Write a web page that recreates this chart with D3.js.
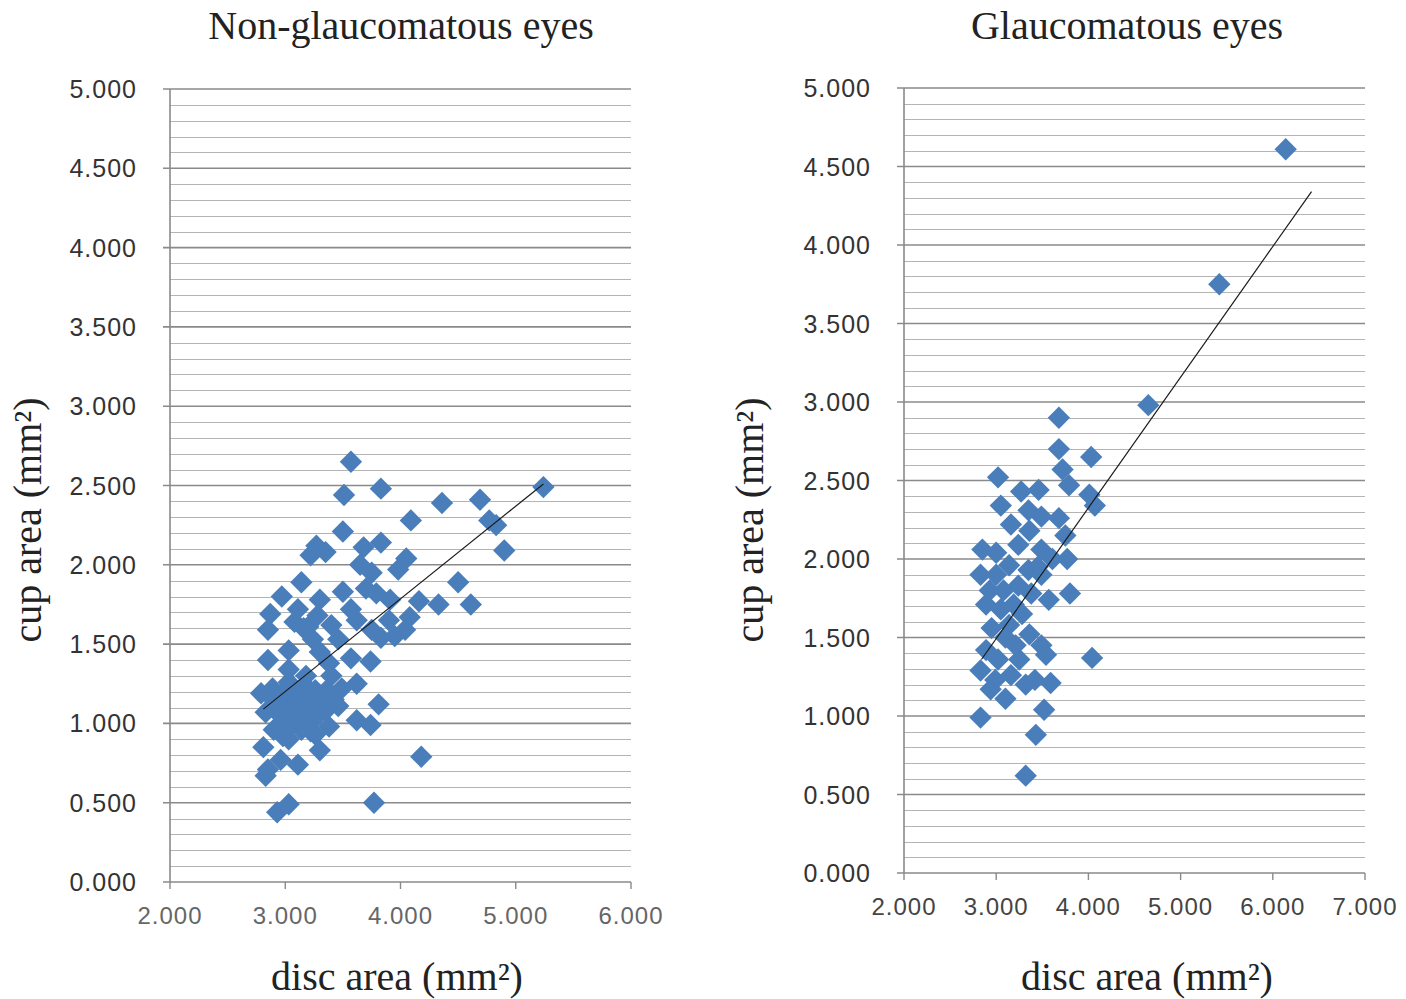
<!DOCTYPE html>
<html><head><meta charset="utf-8">
<script src="https://cdn.jsdelivr.net/npm/d3@7"></script>
<style>
html,body{margin:0;padding:0;background:#fff;}
svg{display:block;}
</style></head>
<body>
<svg id="chart" width="1406" height="999"></svg>
<script>
// ---- Data ----
const titles = ["Non-glaucomatous eyes", "Glaucomatous eyes"];
const xTitle = "disc area (mm²)";
const yTitle = "cup area (mm²)";

const leftXTicks = [2, 3, 4, 5, 6];
const rightXTicks = [2, 3, 4, 5, 6, 7];
const yTicks = [0, 0.5, 1, 1.5, 2, 2.5, 3, 3.5, 4, 4.5, 5];

// Non-glaucomatous eyes: disc area, cup area
const leftDisc = [3.57,3.51,3.83,4.36,4.69,5.24,4.09,4.77,4.83,3.50,4.90,3.27,3.35,3.22,3.68,3.83,4.05,3.98,3.65,3.75,
  4.50,3.14,2.97,3.50,3.79,3.91,4.16,4.33,4.61,3.30,2.87,2.85,3.08,3.20,3.57,3.62,3.75,3.83,4.04,4.08,
  3.24,3.46,3.30,3.57,3.74,3.38,2.85,3.62,3.36,2.79,2.89,3.00,3.09,2.94,3.04,3.11,3.20,3.30,3.42,2.83,
  2.96,3.08,3.23,3.46,3.81,3.62,3.74,3.38,3.14,2.90,2.81,3.03,3.30,3.11,2.96,2.85,2.83,4.18,3.03,2.93,
  3.77,2.97,3.20,3.03,3.11,3.03,3.17,3.26,3.49,3.03,3.16,3.28,3.40,3.70,3.90,3.95,3.18,3.26,3.40,2.92,
  2.87,2.92,3.06,3.13,3.18,3.27,3.35,2.98,3.05,3.22];
const leftCup = [2.65,2.44,2.48,2.39,2.41,2.49,2.28,2.28,2.25,2.21,2.09,2.12,2.08,2.06,2.11,2.14,2.04,1.97,2.00,1.95,
  1.89,1.89,1.80,1.83,1.82,1.78,1.77,1.75,1.75,1.78,1.69,1.59,1.64,1.61,1.72,1.65,1.59,1.54,1.59,1.67,
  1.53,1.53,1.45,1.41,1.39,1.38,1.40,1.25,1.21,1.19,1.22,1.21,1.19,1.14,1.12,1.15,1.12,1.13,1.15,1.07,
  1.05,1.05,1.07,1.11,1.12,1.02,0.99,0.98,0.96,0.96,0.85,0.90,0.83,0.74,0.77,0.71,0.67,0.79,0.49,0.44,
  0.50,1.00,1.00,1.46,1.72,1.26,1.24,1.21,1.22,1.34,1.60,1.68,1.62,1.85,1.65,1.55,1.30,0.93,1.30,1.17,
  1.17,1.08,1.00,1.08,1.17,1.04,1.08,0.92,1.18,0.95];

// Glaucomatous eyes: disc area, cup area
const rightDisc = [6.14,5.42,4.65,3.68,3.68,4.03,3.02,3.72,3.79,3.46,3.27,4.01,4.07,3.05,3.35,3.49,3.68,3.16,3.36,3.75,
  2.85,3.00,3.24,3.49,3.61,3.77,3.14,3.35,3.49,2.83,2.93,3.08,3.24,3.38,3.80,3.57,2.89,3.05,3.19,2.95,
  3.14,3.36,3.49,3.54,4.04,2.89,3.02,3.21,2.83,2.99,3.16,3.32,3.42,3.59,3.10,2.83,3.52,3.43,3.32,2.94,
  3.25,3.10,3.28,3.45,3.00];
const rightCup = [4.61,3.75,2.98,2.90,2.70,2.65,2.52,2.57,2.47,2.44,2.43,2.41,2.34,2.34,2.31,2.27,2.26,2.22,2.18,2.15,
  2.06,2.04,2.09,2.06,2.00,2.00,1.96,1.93,1.90,1.90,1.80,1.80,1.83,1.78,1.78,1.74,1.71,1.68,1.71,1.56,
  1.58,1.52,1.45,1.39,1.37,1.42,1.36,1.45,1.29,1.23,1.26,1.20,1.23,1.21,1.11,0.99,1.04,0.88,0.62,1.17,
  1.36,1.50,1.65,1.95,1.90];

// Trend line endpoints
const leftTrend = [[2.81, 1.09], [5.24, 2.51]];
const rightTrend = [[2.84, 1.36], [6.42, 4.34]];

// ---- Drawing ----
const svg = d3.select("#chart");
const blue = "#4a7ebb";
const panels = [
  {title: titles[0], disc: leftDisc, cup: leftCup, trend: leftTrend, xTicks: leftXTicks,
   x0: 170, x1: 631, yTop: 89, yBot: 882, titleX: 401, yTitleX: 41, xTitleX: 397, xLabColor: "#666"},
  {title: titles[1], disc: rightDisc, cup: rightCup, trend: rightTrend, xTicks: rightXTicks,
   x0: 904, x1: 1365, yTop: 88, yBot: 873, titleX: 1127, yTitleX: 763, xTitleX: 1147, xLabColor: "#444"}
];

panels.forEach(p => {
  const xDom = d3.extent(p.xTicks);
  const x = d3.scaleLinear().domain(xDom).range([p.x0, p.x1]);
  const y = d3.scaleLinear().domain([0, 5]).range([p.yBot, p.yTop]);
  const g = svg.append("g");

  // minor gridlines every 0.1
  const minor = d3.range(1, 50).map(v => v / 10).filter(v => Math.abs(v * 2 - Math.round(v * 2)) > 1e-6);
  g.selectAll(".minor").data(minor).enter().append("line")
    .attr("x1", p.x0).attr("x2", p.x1)
    .attr("y1", d => Math.round(y(d)) + 0.5).attr("y2", d => Math.round(y(d)) + 0.5)
    .attr("stroke", "#b4b4b4").attr("stroke-width", 1);
  // major gridlines
  g.selectAll(".major").data(yTicks.filter(d => d > 0)).enter().append("line")
    .attr("x1", p.x0 - 7).attr("x2", p.x1)
    .attr("y1", d => y(d)).attr("y2", d => y(d))
    .attr("stroke", "#8a8a8a").attr("stroke-width", 1.6);

  // y axis line
  g.append("line").attr("x1", p.x0).attr("x2", p.x0).attr("y1", p.yTop).attr("y2", p.yBot)
    .attr("stroke", "#8a8a8a").attr("stroke-width", 1.6);
  // x axis line
  g.append("line").attr("x1", p.x0 - 7).attr("x2", p.x1).attr("y1", p.yBot).attr("y2", p.yBot)
    .attr("stroke", "#8a8a8a").attr("stroke-width", 1.6);
  // x ticks
  g.selectAll(".xt").data(p.xTicks).enter().append("line")
    .attr("x1", d => x(d)).attr("x2", d => x(d)).attr("y1", p.yBot).attr("y2", p.yBot + 7)
    .attr("stroke", "#8a8a8a").attr("stroke-width", 1.4);

  // y tick labels
  g.selectAll(".yl").data(yTicks).enter().append("text")
    .attr("x", p.x0 - 33).attr("y", d => y(d)).attr("dy", "0.36em")
    .attr("text-anchor", "end")
    .style("font-family", "'Liberation Sans', Arial, sans-serif").style("font-size", "25px")
    .style("letter-spacing", "1px").attr("fill", "#333")
    .text(d => d3.format(".3f")(d));
  // x tick labels
  g.selectAll(".xl").data(p.xTicks).enter().append("text")
    .attr("x", d => x(d)).attr("y", p.yBot + 33)
    .attr("dy", "0.36em").attr("text-anchor", "middle")
    .style("font-family", "'Liberation Sans', Arial, sans-serif").style("font-size", "24px")
    .style("letter-spacing", "1px").attr("fill", p.xLabColor)
    .text(d => d3.format(".3f")(d));

  // points
  const pts = p.disc.map((d, i) => [d, p.cup[i]]);
  const sym = d3.symbol().type(d3.symbolSquare).size(250);
  g.selectAll(".pt").data(pts).enter().append("path")
    .attr("d", sym)
    .attr("transform", d => `translate(${x(d[0])},${y(d[1])}) rotate(45)`)
    .attr("fill", blue);

  // trend line
  g.append("path").datum(p.trend)
    .attr("d", d3.line().x(d => x(d[0])).y(d => y(d[1])))
    .attr("stroke", "#1a1a1a").attr("stroke-width", 1.2).attr("fill", "none");

  // titles
  const serif = "'Liberation Serif', 'Times New Roman', serif";
  svg.append("text").attr("x", p.titleX).attr("y", 39).attr("text-anchor", "middle")
    .style("font-family", serif).style("font-size", "40px").attr("fill", "#222").text(p.title);
  svg.append("text").attr("x", p.xTitleX).attr("y", 990).attr("text-anchor", "middle")
    .style("font-family", serif).style("font-size", "40px").attr("fill", "#222").text(xTitle);
  svg.append("text").attr("transform", `translate(${p.yTitleX},520) rotate(-90)`)
    .attr("text-anchor", "middle")
    .style("font-family", serif).style("font-size", "40px").attr("fill", "#222").text(yTitle);
});
</script>
</body></html>
